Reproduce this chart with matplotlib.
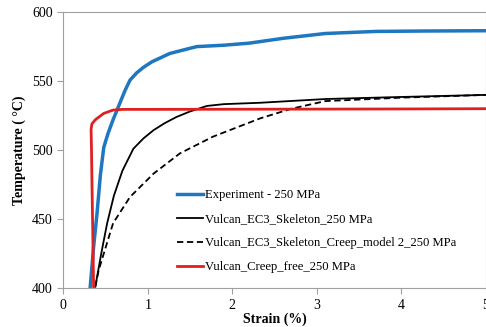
import numpy as np
from matplotlib import pyplot as plt

plt.rcParams['font.family'] = ['Liberation Serif', 'DejaVu Serif']

# Experiment - 250 MPa
exp_strain = [0.32, 0.36, 0.40, 0.44, 0.48, 0.53, 0.59, 0.67, 0.73, 0.79, 0.87, 0.95, 1.05, 1.26, 1.45, 1.58, 1.9, 2.2, 2.6, 3.1, 3.7, 4.3, 5.0]
exp_temp = [401, 430, 454, 482, 502, 512, 522, 534, 543, 550.7, 556, 560, 564, 570, 573, 575, 576, 577.5, 581, 584.5, 586, 586.3, 586.5]

# Vulcan_EC3_Skeleton_250 MPa
ec3_strain = [0.38, 0.45, 0.52, 0.60, 0.70, 0.83, 0.95, 1.07, 1.2, 1.34, 1.5, 1.70, 1.9, 2.33, 3.1, 4.0, 5.0]
ec3_temp = [401, 425, 447, 467, 485, 501, 508.5, 514.5, 519.5, 524, 528, 532, 533.3, 534.3, 537, 538.5, 540]

# Vulcan_EC3_Skeleton_Creep_model 2_250 MPa
creep_strain = [0.38, 0.42, 0.48, 0.59, 0.79, 1.07, 1.38, 1.77, 2.33, 2.7, 3.1, 4.0, 5.0]
creep_temp = [401, 413, 425, 447, 466, 483, 497.6, 509.7, 523, 530, 535.5, 538, 540]

# Vulcan_Creep_free_250 MPa
free_strain = [0.36, 0.35, 0.34, 0.335, 0.33, 0.34, 0.38, 0.48, 0.59, 0.7, 1.0, 2.0, 3.0, 4.0, 5.0]
free_temp = [400, 440, 478, 500, 515, 519, 522, 526.6, 529, 529.5, 529.5, 529.6, 529.7, 529.8, 530]

fig = plt.figure(figsize=(4.86, 3.27), dpi=100)
ax = fig.add_axes([0.13, 0.119, 0.87, 0.844])

ax.plot(exp_strain, exp_temp, color='#1f77c0', lw=2.5, label='Experiment - 250 MPa')
ax.plot(ec3_strain, ec3_temp, color='black', lw=1.3, label='Vulcan_EC3_Skeleton_250 MPa')
ax.plot(creep_strain, creep_temp, color='black', lw=1.3, ls=(0, (3.5, 2)), label='Vulcan_EC3_Skeleton_Creep_model 2_250 MPa')
ax.plot(free_strain, free_temp, color='#e02020', lw=2, label='Vulcan_Creep_free_250 MPa')

ax.set_xlim(0, 5)
ax.set_ylim(400, 600)
ax.set_xticks([0, 1, 2, 3, 4, 5])
ax.set_yticks([400, 450, 500, 550, 600])
ax.tick_params(labelsize=10, color='#a0a0a0', length=4)
for s in ax.spines.values():
    s.set_color('#a0a0a0')
ax.set_xlabel('Strain (%)', fontsize=10, fontweight='bold', labelpad=1)
ax.set_ylabel('Temperature ( \u00b0C)', fontsize=10, fontweight='bold')

ax.legend(loc='upper left', bbox_to_anchor=(0.2695, 0.358), frameon=False, fontsize=9.1,
          borderpad=0, borderaxespad=0,
          handlelength=2.05, handletextpad=0.15, labelspacing=0.95)

fig.savefig('out.png', dpi=100)
